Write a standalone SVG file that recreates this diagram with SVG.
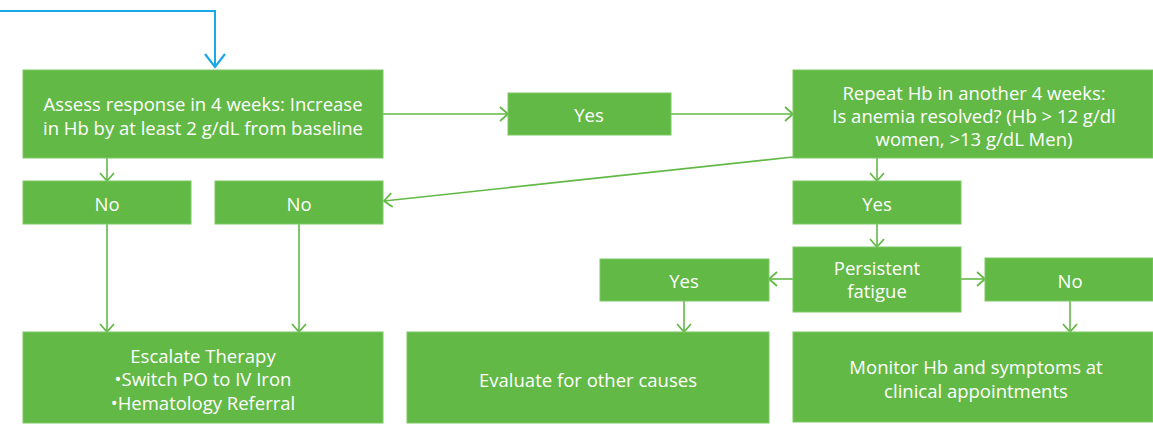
<svg xmlns="http://www.w3.org/2000/svg" width="1153" height="426" viewBox="0 0 1153 426">
<defs>
<style>
.box{fill:#62b946;stroke:#7cc865;stroke-width:1}
.t{fill:#ffffff;font-family:"Open Sans","Liberation Sans",Arial,sans-serif;font-size:18.5px;text-anchor:middle;dominant-baseline:central}
.c{fill:none;stroke:#62b946;stroke-width:1.6}
.b{fill:none;stroke:#1ba9e6;stroke-width:2}
</style>
<marker id="ah" markerUnits="userSpaceOnUse" markerWidth="14" markerHeight="16" refX="10" refY="8" orient="auto">
<path d="M2,1 L10,8 L2,15" fill="none" stroke="#62b946" stroke-width="1.8"/>
</marker>
<marker id="ab" markerUnits="userSpaceOnUse" markerWidth="16" markerHeight="22" refX="14" refY="11" orient="auto">
<path d="M1,1 L14,11 L1,21" fill="none" stroke="#1ba9e6" stroke-width="2.2"/>
</marker>
</defs>
<rect width="1153" height="426" fill="#ffffff"/>
<g id="connectors">
<path class="b" d="M0,11 H215 V67" marker-end="url(#ab)"/>
<line class="c" x1="107" y1="158" x2="107" y2="181" marker-end="url(#ah)"/>
<line class="c" x1="383" y1="114" x2="508" y2="114" marker-end="url(#ah)"/>
<line class="c" x1="671" y1="114" x2="793" y2="114" marker-end="url(#ah)"/>
<line class="c" x1="793" y1="157" x2="384" y2="201" marker-end="url(#ah)"/>
<line class="c" x1="877" y1="158" x2="877" y2="181" marker-end="url(#ah)"/>
<line class="c" x1="877" y1="224" x2="877" y2="247" marker-end="url(#ah)"/>
<line class="c" x1="793" y1="279" x2="769" y2="279" marker-end="url(#ah)"/>
<line class="c" x1="961" y1="279" x2="985" y2="279" marker-end="url(#ah)"/>
<line class="c" x1="107" y1="224" x2="107" y2="332" marker-end="url(#ah)"/>
<line class="c" x1="299" y1="224" x2="299" y2="332" marker-end="url(#ah)"/>
<line class="c" x1="684" y1="301" x2="684" y2="332" marker-end="url(#ah)"/>
<line class="c" x1="1070" y1="301" x2="1070" y2="332" marker-end="url(#ah)"/>
</g>
<g id="assess">
<rect class="box" x="23" y="70" width="360" height="88"/>
<text class="t" x="203" y="103">Assess response in 4 weeks: Increase</text>
<text class="t" x="203" y="127">in Hb by at least 2 g/dL from baseline</text>
</g>
<g id="yes-top">
<rect class="box" x="508" y="93" width="163" height="42"/>
<text class="t" x="589" y="114">Yes</text>
</g>
<g id="repeat">
<rect class="box" x="793" y="70" width="360" height="88"/>
<text class="t" x="974" y="92">Repeat Hb in another 4 weeks:</text>
<text class="t" x="974" y="115">Is anemia resolved? (Hb &gt; 12 g/dl</text>
<text class="t" x="974" y="138">women, &gt;13 g/dL Men)</text>
</g>
<g id="no-1">
<rect class="box" x="23" y="181" width="168" height="43"/>
<text class="t" x="107" y="203">No</text>
</g>
<g id="no-2">
<rect class="box" x="215" y="181" width="168" height="43"/>
<text class="t" x="299" y="203">No</text>
</g>
<g id="yes-resolved">
<rect class="box" x="793" y="181" width="168" height="43"/>
<text class="t" x="877" y="203">Yes</text>
</g>
<g id="fatigue">
<rect class="box" x="793" y="247" width="168" height="65"/>
<text class="t" x="877" y="267">Persistent</text>
<text class="t" x="877" y="290">fatigue</text>
</g>
<g id="yes-fatigue">
<rect class="box" x="600" y="259" width="169" height="42"/>
<text class="t" x="684" y="280">Yes</text>
</g>
<g id="no-fatigue">
<rect class="box" x="985" y="258" width="168" height="43"/>
<text class="t" x="1070" y="280">No</text>
</g>
<g id="escalate">
<rect class="box" x="23" y="332" width="360" height="91"/>
<text class="t" x="203" y="355">Escalate Therapy</text>
<text class="t" x="203" y="378">•Switch PO to IV Iron</text>
<text class="t" x="203" y="402">•Hematology Referral</text>
</g>
<g id="evaluate">
<rect class="box" x="407" y="332" width="362" height="91"/>
<text class="t" x="588" y="379">Evaluate for other causes</text>
</g>
<g id="monitor">
<rect class="box" x="793" y="332" width="360" height="90"/>
<text class="t" x="976" y="366">Monitor Hb and symptoms at</text>
<text class="t" x="976" y="390">clinical appointments</text>
</g>
</svg>
